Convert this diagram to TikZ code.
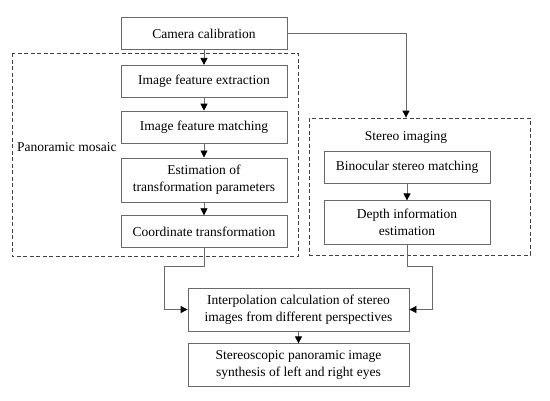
\documentclass[tikz,border=0pt]{standalone}
\usepackage{fontspec}
\setmainfont{Liberation Serif}
\usetikzlibrary{arrows.meta,positioning,calc}
\definecolor{linegray}{RGB}{105,105,105}

\begin{document}
\begin{tikzpicture}[
  x=1pt, y=1pt,
  box/.style={rectangle, draw=linegray, line width=0.8pt, minimum width=166pt,
              minimum height=32pt, inner sep=2pt, align=center,
              font=\fontsize{13.5}{17}\selectfont},
  tallbox/.style={box, minimum height=44pt},
  frame/.style={draw=black!75, line width=0.8pt, dash pattern=on 4pt off 2.5pt},
  lbl/.style={font=\fontsize{13.5}{17}\selectfont, inner sep=0pt},
  arr/.style={draw=linegray, line width=0.8pt,
              -{Triangle[length=7pt,width=7pt,color=black]}},
]
  \useasboundingbox (0,0) rectangle (550,-400);

  % dashed groups
  \draw[frame] (12,-53) rectangle (298,-256);
  \node[frame, minimum width=221pt, minimum height=137pt, inner sep=0pt]
    (stereo) at (419.5,-186.5) {};

  % left column
  \node[box] (cam) at (204,-33.5) {Camera calibration};
  \node[box, below=15pt of cam] (ext) {Image feature extraction};
  \node[box, below=13pt of ext] (match) {Image feature matching};
  \node[tallbox, below=14pt of match] (est) {Estimation of\\transformation parameters};
  \node[box, below=13pt of est] (coord) {Coordinate transformation};
  \node[lbl, anchor=west] (pano) at (17,-147) {Panoramic mosaic};

  % right column
  \node[lbl] (stlbl) at (406,-137) {Stereo imaging};
  \node[box] (bino) at (407,-167) {Binocular stereo matching};
  \node[tallbox, below=17pt of bino] (depth) {Depth information\\estimation};

  % bottom
  \node[tallbox, minimum width=221pt, minimum height=43pt] (interp) at (298.5,-309.5)
    {Interpolation calculation of stereo\\images from different perspectives};
  \node[tallbox, minimum width=221pt, minimum height=43pt, below=12pt of interp] (synth)
    {Stereoscopic panoramic image\\synthesis of left and right eyes};

  \coordinate (lbend) at (164,-266);
  \coordinate (rbend) at (432,-266);

  \draw[arr] (cam) -- (ext);
  \draw[arr] (ext) -- (match);
  \draw[arr] (match) -- (est);
  \draw[arr] (est) -- (coord);
  \draw[arr] (cam.east) -| (stlbl.center |- stereo.north);
  \draw[arr] (bino) -- (depth);
  \draw[arr] (coord.south) |- (lbend) |- (interp.west);
  \draw[arr] (depth.south) |- (rbend) |- (interp.east);
  \draw[arr] (interp) -- (synth);
\end{tikzpicture}
\end{document}
